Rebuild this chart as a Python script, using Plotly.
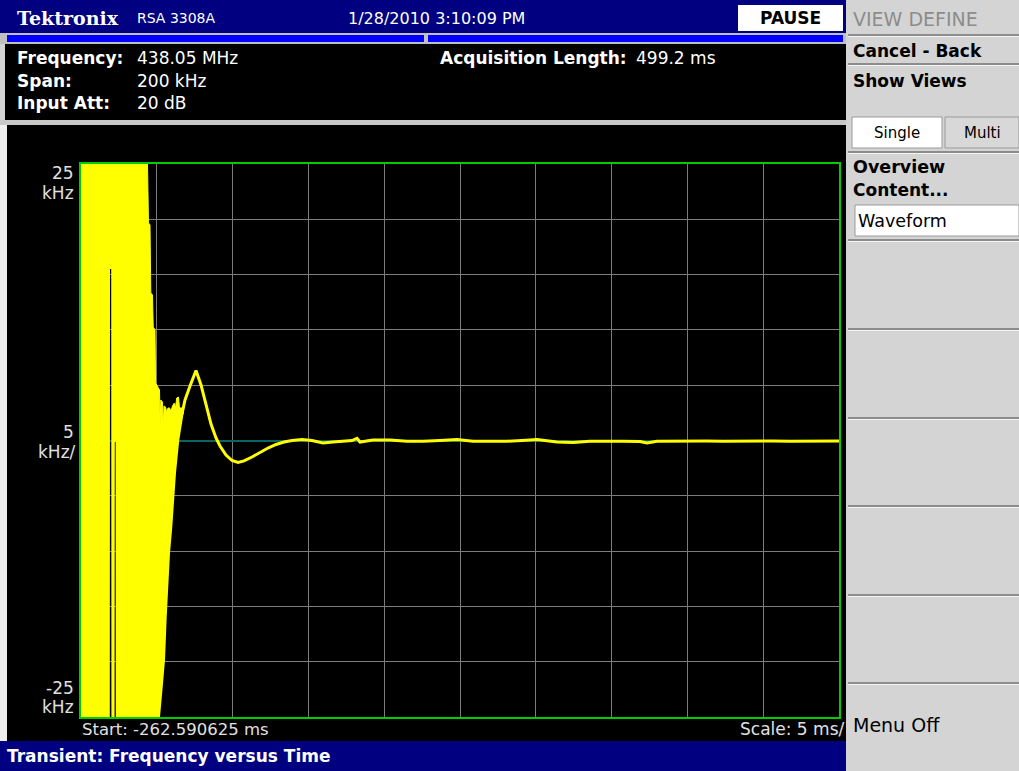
import plotly.graph_objects as go

W, H = 1019, 771

# ---------------- data ----------------
START_MS = -262.590625          # start time (ms)
SPAN_MS = 50.0                  # 10 div x 5 ms
F_MIN, F_MAX = -25.0, 25.0      # kHz

# burst envelope (max) : time offset from start (ms), kHz
env_max_t = [0.0, 4.387, 4.452, 4.551, 4.604, 4.716, 4.763, 4.881, 4.921, 5.046, 5.178,
             5.224, 5.264, 5.376, 5.422, 5.475, 5.574, 5.653, 5.739, 5.838, 5.937,
             6.036, 6.154, 6.234, 6.313, 6.431, 6.497, 6.695, 6.761]
env_max_f = [25.0, 25.0, 19.67, 19.49, 13.34, 13.16, 10.26, 9.99, 5.20, 4.93, 4.57,
             1.22, 3.66, 3.48, 1.22, 3.12, 3.03, 2.58, 2.94, 2.94, 2.67,
             3.12, 3.39, 2.94, 3.84, 3.93, 2.94, 2.94, 2.40]

# burst envelope (min)
env_min_t = [0.0, 1.900, 1.913, 1.992, 2.005, 2.216, 2.230, 2.282, 2.296, 5.211,
             5.389, 5.541, 5.653, 5.759, 5.871, 6.022, 6.154, 6.266, 6.484, 6.577,
             6.708, 6.761]
env_min_f = [-25.0, -25.0, 15.51, 15.51, -25.0, -25.0, -0.14, -0.14, -25.0, -25.0,
             -22.29, -19.85, -15.97, -12.88, -10.17, -7.82, -5.11, -2.94, 0.05, 0.95,
             1.85, 2.40]

# settling trace after lock
settle_t = [6.662, 6.860, 7.190, 7.586, 7.916, 8.245, 8.575, 8.905, 9.169, 9.565,
            9.960, 10.356, 10.752, 11.280, 11.807, 12.335, 12.863, 13.391, 13.918,
            14.578, 15.237, 15.963, 16.623, 17.414, 17.876, 18.206, 18.404, 19.261,
            20.383, 21.504, 22.559, 23.681, 24.802, 25.858, 26.979, 28.100, 29.090,
            30.079, 31.398, 32.454, 33.575, 34.697, 35.752, 36.873, 37.335, 37.995,
            39.050, 40.172, 41.293, 42.348, 43.470, 44.591, 45.646, 46.768, 47.823,
            48.879, 50.0]
settle_f = [2.40, 3.66, 4.93, 6.33, 5.02, 3.21, 1.49, 0.23, -0.50, -1.31,
            -1.81, -1.99, -1.85, -1.49, -1.08, -0.68, -0.36, -0.14, 0.00,
            0.09, 0.00, -0.23, -0.14, -0.05, 0.00, 0.20, -0.14, 0.05,
            0.05, -0.07, -0.07, 0.00, 0.09, -0.07, -0.09, -0.07, 0.00,
            0.09, -0.14, -0.18, -0.07, -0.05, -0.07, -0.09, -0.23, -0.07,
            -0.05, -0.07, -0.05, -0.07, -0.05, -0.07, -0.05, -0.07, -0.05,
            -0.07, -0.05]

YELLOW = "#ffff00"
FONT = "DejaVu Sans"

fig = go.Figure()
fig.add_trace(go.Scatter(x=[START_MS + t for t in env_min_t], y=env_min_f,
                         mode="lines", line=dict(color=YELLOW, width=0),
                         hoverinfo="skip", showlegend=False))
fig.add_trace(go.Scatter(x=[START_MS + t for t in env_max_t], y=env_max_f,
                         mode="lines", line=dict(color=YELLOW, width=1),
                         fill="tonexty", fillcolor=YELLOW,
                         hoverinfo="skip", showlegend=False))
fig.add_trace(go.Scatter(x=[START_MS + t for t in settle_t], y=settle_f,
                         mode="lines", line=dict(color=YELLOW, width=3),
                         hoverinfo="skip", showlegend=False))

# ---------------- chrome helpers ----------------
def px(x):
    return x / W


def py(y):
    return 1 - y / H


shapes = []


def rect(x0, y0, x1, y1, color, line=None):
    d = dict(type="rect", xref="paper", yref="paper",
             x0=px(x0), x1=px(x1), y0=py(y1), y1=py(y0),
             fillcolor=color, layer="below", line=dict(width=0))
    if line:
        d["line"] = dict(color=line, width=1)
    shapes.append(d)


annots = []


def text(x, y, s, size=17, color="white", anchor="left", bold=False, family=FONT):
    if bold:
        s = "<b>" + s + "</b>"
    if anchor == "left":
        x -= 2
    elif anchor == "right":
        x += 2
    annots.append(dict(x=px(x), y=py(y), xref="paper", yref="paper", text=s,
                       showarrow=False, xanchor=anchor, yanchor="middle",
                       font=dict(family=family, size=size, color=color)))


NAVY = "#000080"
# title bar
rect(0, 0, 846, 33, NAVY)
rect(0, 33, 846, 44, "#c0c0c0")
rect(7, 35, 424, 42, "#0000ff")
rect(428, 35, 843, 42, "#0000ff")
rect(738, 5, 843, 31, "#ffffff")
# info panel
rect(5, 44, 846, 120, "#000000")
rect(0, 120, 846, 125, "#c8c8c8")
# plot panel
rect(0, 125, 7, 741, "#eeeeee")
rect(7, 125, 846, 741, "#000000")
# bottom bar
rect(0, 741, 846, 771, NAVY)
# right panel
rect(846, 0, 1019, 771, "#d4d4d4")
for yy in [34, 63, 151, 239, 328, 417, 505, 594, 682]:
    rect(848, yy, 1019, yy + 2, "#8c8c8c")
    rect(848, yy + 2, 1019, yy + 3, "#f4f4f4")
rect(852, 117, 942, 148, "#ffffff", line="#9a9a9a")
rect(945, 117, 1019, 148, "#d8d8d8", line="#9a9a9a")
rect(855, 205, 1019, 236, "#ffffff", line="#9a9a9a")

# texts
text(17, 18, "Tektronix", size=19, bold=True, family="DejaVu Serif")
text(137, 18, "RSA 3308A", size=14)
text(436, 18, "1/28/2010 3:10:09 PM", size=16, anchor="center")
text(790, 18, "PAUSE", size=17, color="black", anchor="center", bold=True)
text(17, 58, "Frequency:", size=17, bold=True)
text(137, 58, "438.05 MHz", size=17)
text(17, 81, "Span:", size=17, bold=True)
text(137, 81, "200 kHz", size=17)
text(17, 103, "Input Att:", size=17, bold=True)
text(137, 103, "20 dB", size=17)
text(440, 58, "Acquisition Length:", size=17, bold=True)
text(636, 58, "499.2 ms", size=17)

LG = "#e0e0e0"
text(74, 173, "25", size=17, color=LG, anchor="right")
text(74, 193, "kHz", size=17, color=LG, anchor="right")
text(74, 432, "5", size=17, color=LG, anchor="right")
text(76, 452, "kHz/", size=17, color=LG, anchor="right")
text(74, 688, "-25", size=17, color=LG, anchor="right")
text(74, 707, "kHz", size=17, color=LG, anchor="right")
text(82, 729, "Start: -262.590625 ms", size=16.5, color=LG)
text(845, 729, "Scale: 5 ms/", size=17, color=LG, anchor="right")
text(7, 756, "Transient: Frequency versus Time", size=17, bold=True)

text(853, 19, "VIEW DEFINE", size=19, color="#8c8c8c")
text(853, 51, "Cancel - Back", size=17, color="black", bold=True)
text(853, 81, "Show Views", size=17, color="black", bold=True)
text(897, 133, "Single", size=15, color="black", anchor="center")
text(982, 133, "Multi", size=15, color="black", anchor="center")
text(853, 167, "Overview", size=17.5, color="black", bold=True)
text(853, 190, "Content...", size=17, color="black", bold=True)
text(858, 221, "Waveform", size=17.5, color="black")
text(853, 725, "Menu Off", size=19, color="black")

fig.update_layout(
    width=W, height=H, margin=dict(l=0, r=0, t=0, b=0),
    paper_bgcolor="#d4d4d4", plot_bgcolor="#000000",
    shapes=shapes, annotations=annots, showlegend=False,
    xaxis=dict(domain=[px(81), px(839)], range=[START_MS, START_MS + SPAN_MS],
               tick0=START_MS, dtick=5, showticklabels=False, ticks="",
               showgrid=True, gridcolor="#7c7c7c", gridwidth=1, zeroline=False,
               showline=True, linecolor="#00cc00", linewidth=2, mirror=True),
    yaxis=dict(domain=[py(717), py(164)], range=[F_MIN, F_MAX], dtick=5,
               showticklabels=False, ticks="",
               showgrid=True, gridcolor="#7c7c7c", gridwidth=1,
               zeroline=True, zerolinecolor="#0b6464", zerolinewidth=2,
               showline=True, linecolor="#00cc00", linewidth=2, mirror=True),
)

fig.write_html("out.html", config={"displayModeBar": False},
               post_script="document.body.style.margin='0';document.body.style.overflow='hidden';")
